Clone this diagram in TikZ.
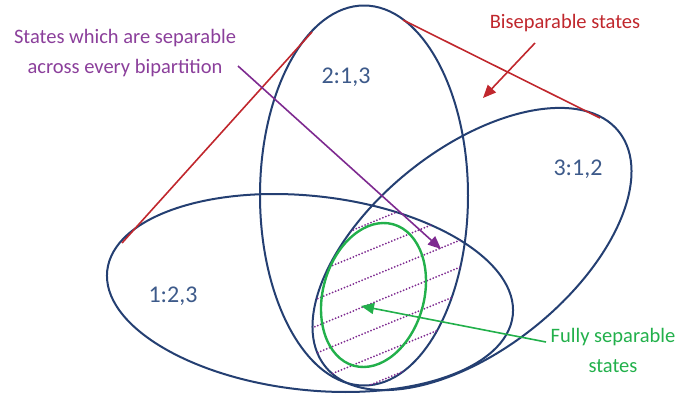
\documentclass[tikz,border=0pt]{standalone}
\usepackage{fontspec}
\setmainfont{Carlito}
\usetikzlibrary{arrows.meta}
\definecolor{setblue}{HTML}{243F72}
\definecolor{labelblue}{HTML}{3D5A8A}
\definecolor{hullred}{HTML}{C0272D}
\definecolor{seppurple}{HTML}{7E2A90}
\definecolor{fullgreen}{HTML}{22B04B}

\begin{document}
\begin{tikzpicture}[x=1pt, y=-1pt, >={Triangle[length=13pt,width=11pt]},
  setline/.style={draw=setblue, line width=2pt},
  setlabel/.style={text=labelblue, font=\fontsize{24}{28}\selectfont},
  note/.style={align=center, font=\fontsize{20.5}{30}\selectfont},
  hatch/.style={draw=seppurple, line width=2pt, line cap=round, dash pattern=on 0pt off 3.2pt}]
        \useasboundingbox (0,0) rectangle (678,394);

        % Three bipartition sets
        \draw [setline, rotate around={-6.3:(310,293)}] (310,293) ellipse [x radius=204, y radius=97];
        \draw [setline] (364,195.5) ellipse [x radius=104, y radius=190];
        \draw [setline, rotate around={38.7:(472,249)}] (472,249) ellipse [x radius=188, y radius=100];

        % Hatched intersection
        \begin{scope}
            \clip [rotate around={-6.3:(310,293)}] (310,293) ellipse [x radius=204, y radius=97];
            \clip (364,195.5) ellipse [x radius=104, y radius=190];
            \clip [rotate around={38.7:(472,249)}] (472,249) ellipse [x radius=188, y radius=100];
            \foreach \k in {-5,...,5}
                \draw [hatch] (300,{332.8+27*\k}) -- (480,{259+27*\k});
        \end{scope}

        % Fully separable set
        \draw [draw=fullgreen, line width=2.4pt, rotate around={-15.6:(373.5,295)}] (373.5,295) ellipse [x radius=50.5, y radius=73.4];

        % Labels
        \node [setlabel] (one) at (173,296) {1:2,3};
        \node [setlabel] (two) at (346,77) {2:1,3};
        \node [setlabel] (three) at (578,169) {3:1,2};
        \node [note, text=hullred] (bisep) at (565,23) {Biseparable states};
        \node [note, text=seppurple!90] (sepall) at (125,53) {States which are separable\\across every bipartition};
        \node [note, text=fullgreen] (fullsep) at (613,350) {Fully separable\\states};

        % Convex hull and pointers
        \coordinate (hull-a) at (122,243);
        \coordinate (hull-b) at (312,32);
        \coordinate (hull-c) at (403,20);
        \coordinate (hull-d) at (600,118);
        \coordinate (bisep-from) at (535,43);
        \coordinate (bisep-tip) at (483,98);
        \coordinate (sepall-from) at (238,66);
        \coordinate (sepall-tip) at (441,249);
        \coordinate (fullsep-from) at (546,342);
        \coordinate (fullsep-tip) at (361,306);
        \path [draw, hullred, line width=1.6pt] (hull-a) -- (hull-b);
        \path [draw, hullred, line width=1.6pt] (hull-c) -- (hull-d);
        \path [draw, ->, hullred, line width=1.6pt] (bisep-from) -- (bisep-tip);
        \path [draw, ->, seppurple, line width=1.6pt] (sepall-from) -- (sepall-tip);
        \path [draw, ->, fullgreen, line width=1.6pt] (fullsep-from) -- (fullsep-tip);
\end{tikzpicture}
\end{document}
